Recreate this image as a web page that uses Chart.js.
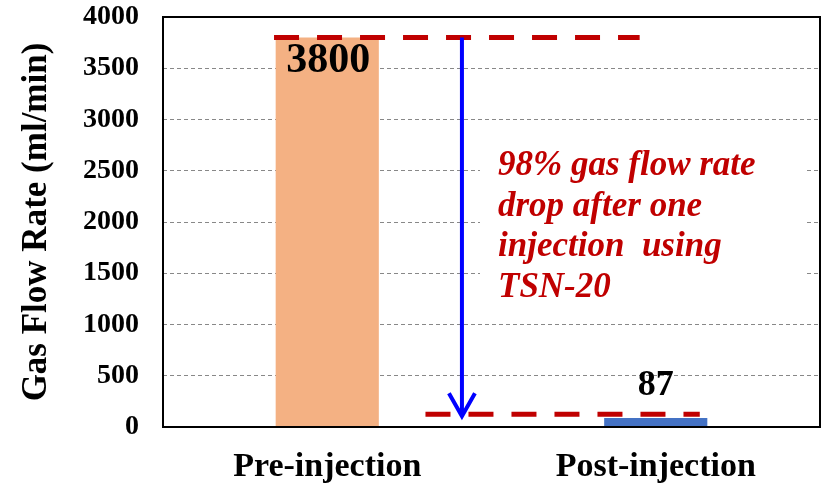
<!DOCTYPE html>
<html>
<head>
<meta charset="utf-8">
<script src="https://cdn.jsdelivr.net/npm/chart.js@4.4.0/dist/chart.umd.min.js"></script>
<style>
  body { margin: 0; background: #fff; }
</style>
</head>
<body>
<canvas id="myChart" width="821" height="486"></canvas>
<script>
const labels = ["Pre-injection", "Post-injection"];
const flowRates = [3800, 87];
const barColors = ['#F4B183', '#4472C4'];
const yTicks = [0, 500, 1000, 1500, 2000, 2500, 3000, 3500, 4000];
const levels = [3800, 125];   // before / after dashed reference levels
const noteLines = ["98% gas flow rate", "drop after one", "injection  using", "TSN-20"];

const serif = "'Liberation Serif', 'Times New Roman', serif";

const annotate = {
    id: 'annotate',
    beforeDatasetsDraw(chart) {
        // white box behind the note, hides the grid there
        const ctx = chart.ctx;
        ctx.save();
        ctx.fillStyle = '#fff';
        ctx.fillRect(480, 140, 327, 165);
        ctx.restore();
    },
    afterDatasetsDraw(chart) {
        const ctx = chart.ctx;
        const x = chart.scales.x, y = chart.scales.y;
        ctx.save();

        // red dashed levels
        ctx.strokeStyle = '#C00000';
        ctx.lineWidth = 5;
        ctx.setLineDash([25, 18]);
        const spans = [[-0.162, 0.951], [0.299, 1.134]];
        levels.forEach((v, i) => {
            const py = y.getPixelForValue(v);
            ctx.beginPath();
            ctx.moveTo(x.getPixelForValue(spans[i][0]), py);
            ctx.lineTo(x.getPixelForValue(spans[i][1]), py);
            ctx.stroke();
        });

        // blue arrow
        const ax = x.getPixelForValue(0.41);
        const y1 = y.getPixelForValue(levels[0]);
        const y2 = y.getPixelForValue(levels[1]) + 2;
        ctx.setLineDash([]);
        ctx.strokeStyle = '#0000FF';
        ctx.lineWidth = 4;
        ctx.beginPath();
        ctx.moveTo(ax, y1);
        ctx.lineTo(ax, y2);
        ctx.moveTo(ax - 13, y2 - 23);
        ctx.lineTo(ax, y2);
        ctx.lineTo(ax + 13, y2 - 23);
        ctx.stroke();

        // value labels
        const meta = chart.getDatasetMeta(0);
        ctx.fillStyle = '#000';
        ctx.textAlign = 'center';
        ctx.textBaseline = 'middle';
        ctx.font = 'bold 42px ' + serif;
        ctx.fillText(flowRates[0], meta.data[0].x + 1, meta.data[0].y + 24);
        ctx.font = 'bold 36px ' + serif;
        ctx.fillText(flowRates[1], meta.data[1].x, meta.data[1].y - 32);

        // note
        ctx.fillStyle = '#C00000';
        ctx.textAlign = 'left';
        ctx.textBaseline = 'alphabetic';
        ctx.font = 'italic bold 35px ' + serif;
        noteLines.forEach((t, i) => ctx.fillText(t, 498, 175 + i * 40.5));
        ctx.restore();
    },
    afterDraw(chart) {
        const a = chart.chartArea;
        const ctx = chart.ctx;
        ctx.save();
        ctx.strokeStyle = '#000';
        ctx.lineWidth = 2;
        ctx.strokeRect(a.left, a.top, a.right - a.left, a.bottom - a.top);
        ctx.restore();
    }
};

const ctx = document.getElementById('myChart').getContext('2d');
new Chart(ctx, {
    type: 'bar',
    data: {
        labels: labels,
        datasets: [{
            data: flowRates,
            backgroundColor: barColors,
            categoryPercentage: 1,
            barPercentage: 0.314
        }]
    },
    options: {
        responsive: false,
        animation: false,
        layout: { padding: { top: 17, right: 1, left: 0, bottom: 0 } },
        plugins: {
            legend: { display: false },
            tooltip: { enabled: false }
        },
        scales: {
            x: {
                grid: { display: false, drawTicks: false },
                border: { display: false },
                ticks: {
                    color: '#000',
                    padding: 20,
                    font: { family: serif, size: 34, weight: 'bold' }
                },
                afterFit(scale) {
                    scale.height = 59;
                    scale.paddingLeft = 0;
                    scale.paddingRight = 0;
                }
            },
            y: {
                min: 0,
                max: 4000,
                afterBuildTicks(scale) { scale.ticks = yTicks.map(v => ({ value: v })); },
                grid: { color: '#888', drawTicks: false },
                border: { display: false, dash: [4, 3] },
                ticks: {
                    color: '#000',
                    padding: 24,
                    font: { family: serif, size: 28, weight: 'bold' },
                    callback: v => String(v)
                },
                title: {
                    display: true,
                    text: 'Gas Flow Rate (ml/min)',
                    color: '#000',
                    padding: { top: 16, bottom: 0 },
                    font: { family: serif, size: 35, weight: 'bold' }
                },
                afterFit(scale) {
                    scale.width = 163;
                    scale.paddingTop = 0;
                    scale.paddingBottom = 0;
                }
            }
        }
    },
    plugins: [annotate]
});
</script>
</body>
</html>
